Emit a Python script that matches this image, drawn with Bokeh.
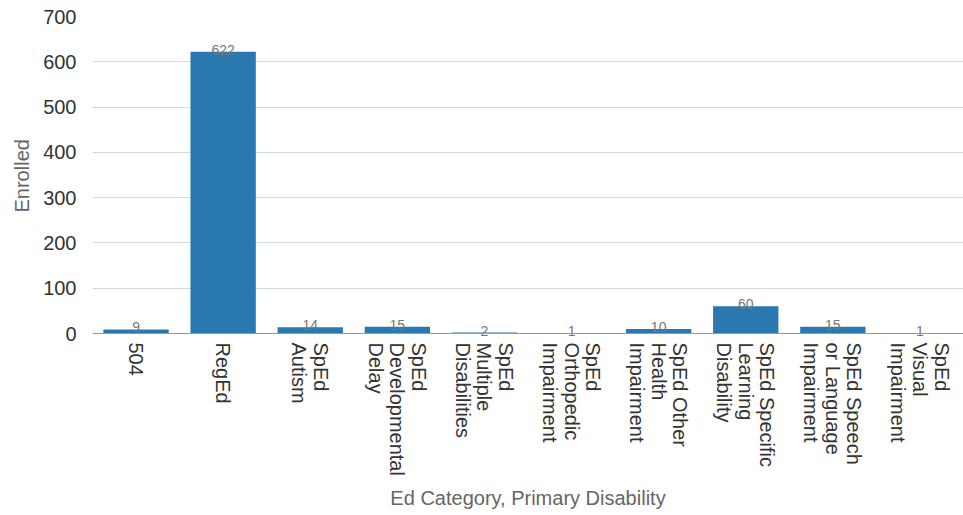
import math
from bokeh.plotting import figure
from bokeh.models import ColumnDataSource, FactorRange, Range1d, FixedTicker, Span, Title
from bokeh.core.properties import value
from bokeh.embed import file_html
from bokeh.resources import INLINE

categories = ["504", "RegEd", "SpEd Autism", "SpEd Developmental Delay",
              "SpEd Multiple Disabilities", "SpEd Orthopedic Impairment",
              "SpEd Other Health Impairment", "SpEd Specific Learning Disability",
              "SpEd Speech or Language Impairment", "SpEd Visual Impairment"]
tick_labels = ["504", "RegEd", "SpEd\nAutism", "SpEd\nDevelopmental\nDelay",
               "SpEd\nMultiple\nDisabilities", "SpEd\nOrthopedic\nImpairment",
               "SpEd Other\nHealth\nImpairment", "SpEd Specific\nLearning\nDisability",
               "SpEd Speech\nor Language\nImpairment", "SpEd\nVisual\nImpairment"]
enrolled = [9, 622, 14, 15, 2, 1, 10, 60, 15, 1]
y_ticks = [0, 100, 200, 300, 400, 500, 600, 700]

FONT = "Liberation Sans"

src = ColumnDataSource(dict(cat=categories, val=enrolled, lab=[str(v) for v in enrolled],
                            tick=tick_labels, zero=[0] * len(categories)))

# plot area: value 700 at the top, value 0 at 317 px below; the frame continues
# 147 px further down to host the category labels
px_per_unit = 317 / 700
y_bottom = -147 / px_per_unit

p = figure(x_range=FactorRange(factors=categories, range_padding=0),
           y_range=Range1d(y_bottom, 700),
           frame_width=871, frame_height=464,
           min_border_left=92, min_border_right=0, min_border_top=16, min_border_bottom=35,
           output_backend="svg", toolbar_location=None, tools="")

p.vbar(x="cat", top="val", width=0.75, source=src, fill_color="#2979b0", line_color=None)
p.text(x="cat", y="val", text="lab", source=src, text_align="center", text_baseline="alphabetic",
       y_offset=-2, text_font_size="14px", text_color="#777777", text_font=value(FONT))

# category labels under the baseline, rotated to read top to bottom
p.text(x="cat", y="zero", text="tick", source=src, angle=-math.pi / 2,
       text_align="left", text_baseline="middle", y_offset=9,
       text_font_size="20px", text_color="#333333", text_font=value(FONT),
       text_line_height=0.98)

p.add_layout(Span(location=0, dimension="width", line_color="#999999", line_width=1))

p.outline_line_color = None
p.xgrid.grid_line_color = None
p.ygrid.grid_line_color = "#d0d8e2"
p.ygrid.ticker = FixedTicker(ticks=y_ticks[1:])

p.yaxis.ticker = FixedTicker(ticks=y_ticks)
p.yaxis.axis_line_color = None
p.yaxis.major_tick_line_color = None
p.yaxis.minor_tick_line_color = None
p.yaxis.major_label_text_font_size = "20px"
p.yaxis.major_label_text_color = "#333333"
p.yaxis.major_label_text_font = FONT
p.yaxis.major_label_standoff = 10

p.add_layout(Title(text="Enrolled", align="left", offset=268, text_font_size="20px",
                   text_color="#666666", text_font=FONT, text_font_style="normal",
                   standoff=16), "left")

p.xaxis.visible = False
p.add_layout(Title(text="Ed Category, Primary Disability", align="center",
                   text_font_size="20px", text_color="#666666", text_font=FONT,
                   text_font_style="normal", standoff=9), "below")

open("out.html", "w").write(file_html(p, INLINE))
